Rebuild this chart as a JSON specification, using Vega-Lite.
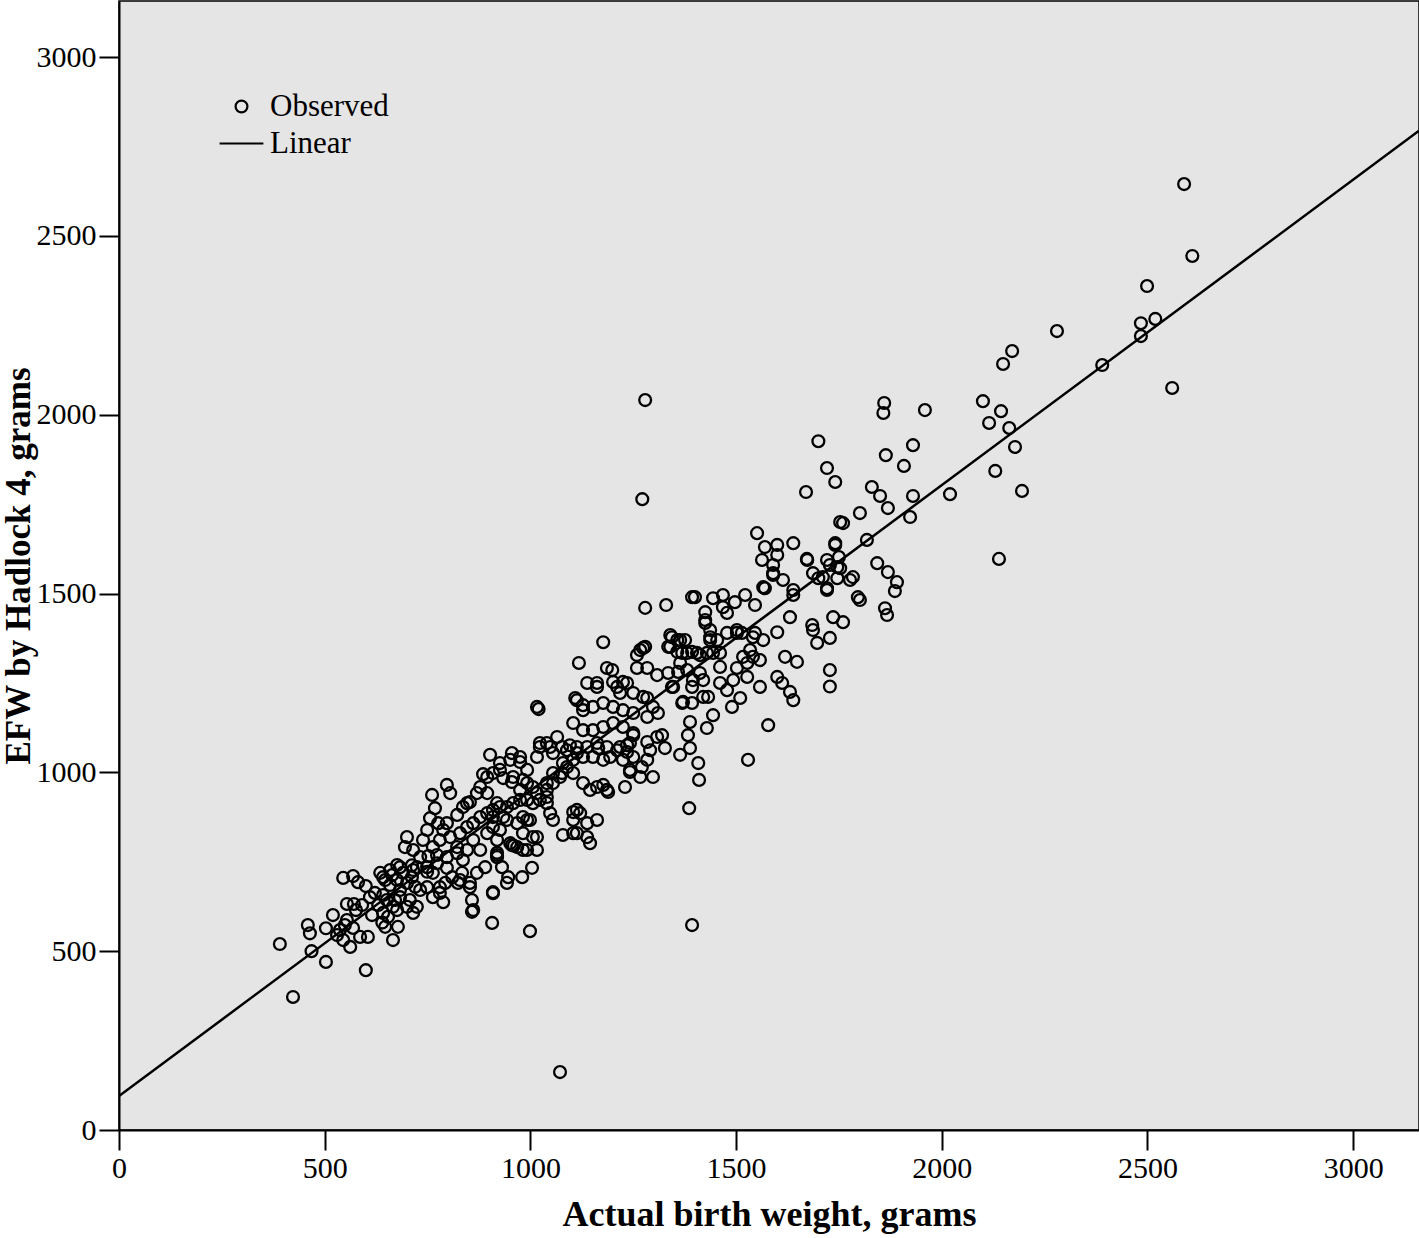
{
"$schema": "https://vega.github.io/schema/vega-lite/v6.json",
"autosize": {"type": "none"},
"width": 1300,
"height": 1129,
"padding": {"left": 119, "top": 1, "right": 0, "bottom": 108},
"background": "#ffffff",
"config": {
 "view": {"fill": "#e5e5e5", "stroke": "#000000", "strokeWidth": 1.5},
 "axis": {"grid": false, "domainColor": "#000000", "domainWidth": 2, "tickColor": "#000000", "tickWidth": 2, "tickSize": 20, "labelFont": "Liberation Serif", "labelFontSize": 30, "labelColor": "#000000", "labelPadding": 3, "labelFlush": false, "labelOverlap": false, "format": "d", "titleFont": "Liberation Serif", "titleFontSize": 36, "titleFontWeight": "bold", "titleColor": "#000000"},
 "legend": {"labelFont": "Liberation Serif", "labelFontSize": 31, "labelColor": "#000000", "symbolStrokeColor": "#000000", "symbolFillColor": "transparent", "symbolStrokeWidth": 2.2, "symbolSize": 140, "padding": 0, "labelOffset": 13, "rowPadding": 5}
},
"datasets": {
 "fit": [{"x": 0, "y": 95}, {"x": 3160, "y": 2794}],
 "pts": [
{"x":391,"y":520},{"x":423,"y":372},{"x":459,"y":573},{"x":464,"y":550},{"x":468,"y":500},{"x":503,"y":564},{"x":503,"y":470},{"x":520,"y":601},{"x":530,"y":545},{"x":545,"y":705},{"x":554,"y":632},{"x":569,"y":710},{"x":571,"y":632},{"x":581,"y":693},{"x":600,"y":682},{"x":600,"y":447},{"x":610,"y":651},{"x":554,"y":587},{"x":562,"y":512},{"x":545,"y":531},{"x":537,"y":559},{"x":569,"y":565},{"x":586,"y":540},{"x":605,"y":540},{"x":622,"y":663},{"x":635,"y":719},{"x":647,"y":568},{"x":654,"y":596},{"x":666,"y":531},{"x":676,"y":741},{"x":678,"y":568},{"x":690,"y":719},{"x":700,"y":624},{"x":715,"y":727},{"x":724,"y":624},{"x":732,"y":671},{"x":576,"y":615},{"x":591,"y":629},{"x":549,"y":573},{"x":615,"y":601},{"x":630,"y":629},{"x":642,"y":657},{"x":659,"y":685},{"x":671,"y":643},{"x":683,"y":671},{"x":664,"y":713},{"x":647,"y":699},{"x":640,"y":580},{"x":712,"y":740},{"x":749,"y":722},
{"x":902,"y":1049},{"x":926,"y":1026},{"x":955,"y":1054},{"x":975,"y":1029},{"x":992,"y":1007},{"x":1016,"y":1043},{"x":1040,"y":1082},{"x":1055,"y":998},{"x":1006,"y":959},{"x":975,"y":951},{"x":955,"y":973},{"x":909,"y":998},{"x":895,"y":987},{"x":878,"y":959},{"x":853,"y":917},{"x":836,"y":903},{"x":822,"y":881},{"x":797,"y":965},{"x":805,"y":942},{"x":761,"y":937},{"x":768,"y":900},{"x":756,"y":872},{"x":776,"y":858},{"x":788,"y":839},{"x":749,"y":839},{"x":739,"y":811},{"x":700,"y":819},{"x":695,"y":791},{"x":715,"y":783},{"x":732,"y":763},{"x":999,"y":867},{"x":1016,"y":819},{"x":992,"y":783},{"x":968,"y":791},{"x":951,"y":802},{"x":919,"y":811},{"x":919,"y":763},{"x":931,"y":735},{"x":946,"y":707},{"x":943,"y":691},{"x":980,"y":707},{"x":1004,"y":733},{"x":909,"y":665},{"x":858,"y":643},{"x":858,"y":610},{"x":788,"y":637},{"x":780,"y":663},{"x":824,"y":691},{"x":853,"y":691},{"x":870,"y":719},{"x":890,"y":735},{"x":834,"y":719},{"x":810,"y":707},{"x":793,"y":691},{"x":763,"y":719},{"x":683,"y":735},{"x":720,"y":680},{"x":1055,"y":867},{"x":1079,"y":825},{"x":1104,"y":889},
{"x":752,"y":766},{"x":763,"y":791},{"x":780,"y":811},{"x":805,"y":819},{"x":829,"y":830},{"x":846,"y":847},{"x":861,"y":858},{"x":878,"y":875},{"x":895,"y":886},{"x":909,"y":895},{"x":926,"y":903},{"x":943,"y":903},{"x":958,"y":914},{"x":975,"y":923},{"x":992,"y":923},{"x":1006,"y":914},{"x":1023,"y":923},{"x":1040,"y":931},{"x":1040,"y":914},{"x":749,"y":735},{"x":724,"y":735},{"x":712,"y":707},{"x":659,"y":727},{"x":642,"y":707},{"x":676,"y":699},{"x":700,"y":691},{"x":749,"y":679},{"x":707,"y":643},{"x":683,"y":651},{"x":651,"y":643},{"x":666,"y":624},{"x":1104,"y":830},{"x":1113,"y":895},{"x":1023,"y":1071},{"x":1055,"y":1054},{"x":1077,"y":1071},{"x":1096,"y":1076},{"x":1113,"y":1054},{"x":1089,"y":1015},{"x":1104,"y":998},{"x":1077,"y":998},{"x":1040,"y":970},{"x":992,"y":970},{"x":934,"y":984},{"x":870,"y":942},{"x":797,"y":858},{"x":822,"y":791},{"x":846,"y":783},{"x":861,"y":811},{"x":797,"y":763},{"x":773,"y":746},{"x":836,"y":755},{"x":878,"y":783},{"x":895,"y":830},{"x":909,"y":847},{"x":943,"y":867},{"x":968,"y":858},{"x":982,"y":875},{"x":642,"y":607},{"x":676,"y":615},{"x":715,"y":607},{"x":763,"y":651},{"x":780,"y":679},{"x":861,"y":615},{"x":909,"y":662},{"x":919,"y":769},{"x":955,"y":797},{"x":853,"y":679},{"x":829,"y":699},{"x":822,"y":774},{"x":797,"y":733},{"x":773,"y":769},
{"x":1016,"y":1183},{"x":1020,"y":1177},{"x":1113,"y":1202},{"x":1138,"y":1250},{"x":1162,"y":1239},{"x":1211,"y":1239},{"x":1235,"y":1250},{"x":1250,"y":1222},{"x":1274,"y":1211},{"x":1298,"y":1183},{"x":1284,"y":1155},{"x":1250,"y":1166},{"x":1225,"y":1174},{"x":1201,"y":1183},{"x":1177,"y":1194},{"x":1152,"y":1183},{"x":1128,"y":1174},{"x":1104,"y":1138},{"x":1128,"y":1118},{"x":1152,"y":1118},{"x":1177,"y":1127},{"x":1201,"y":1138},{"x":1225,"y":1127},{"x":1250,"y":1110},{"x":1308,"y":1099},{"x":1284,"y":1085},{"x":1235,"y":1076},{"x":1211,"y":1062},{"x":1186,"y":1071},{"x":1162,"y":1082},{"x":1138,"y":1071},{"x":1113,"y":1071},{"x":1089,"y":1062},{"x":1065,"y":1099},{"x":1048,"y":1071},{"x":1023,"y":1082},{"x":975,"y":1043},{"x":951,"y":1035},{"x":926,"y":1007},{"x":958,"y":987},{"x":982,"y":979},{"x":1079,"y":1026},{"x":1104,"y":1035},{"x":1128,"y":1043},{"x":1152,"y":1043},{"x":1177,"y":1035},{"x":1225,"y":1035},{"x":1250,"y":1043},{"x":1284,"y":1035},{"x":1291,"y":1062},{"x":1242,"y":1007},{"x":1267,"y":987},{"x":1298,"y":987},{"x":1230,"y":959},{"x":1186,"y":951},{"x":1162,"y":959},{"x":1128,"y":970},{"x":1072,"y":987},{"x":1055,"y":970},{"x":1040,"y":951},{"x":1016,"y":942},{"x":1048,"y":886},{"x":1121,"y":886},{"x":1104,"y":867},{"x":1162,"y":867},{"x":1138,"y":858},{"x":1113,"y":830},{"x":1138,"y":819},{"x":1145,"y":802},{"x":960,"y":795},{"x":919,"y":775},{"x":982,"y":783},{"x":1016,"y":783},{"x":1006,"y":819},{"x":982,"y":830},{"x":926,"y":839},{"x":909,"y":875},{"x":934,"y":875},{"x":992,"y":867},{"x":919,"y":914},{"x":895,"y":942},{"x":846,"y":914},{"x":885,"y":995},
{"x":1177,"y":1364},{"x":1118,"y":1306},{"x":1267,"y":1342},{"x":1279,"y":1351},{"x":1259,"y":1328},{"x":1259,"y":1292},{"x":1284,"y":1292},{"x":1308,"y":1272},{"x":1335,"y":1278},{"x":1340,"y":1384},{"x":1364,"y":1370},{"x":1376,"y":1370},{"x":1340,"y":1351},{"x":1357,"y":1337},{"x":1381,"y":1334},{"x":1405,"y":1334},{"x":1429,"y":1334},{"x":1444,"y":1334},{"x":1461,"y":1334},{"x":1437,"y":1378},{"x":1425,"y":1418},{"x":1478,"y":1390},{"x":1502,"y":1390},{"x":1412,"y":1278},{"x":1381,"y":1286},{"x":1364,"y":1306},{"x":1395,"y":1258},{"x":1420,"y":1258},{"x":1347,"y":1239},{"x":1393,"y":1239},{"x":1371,"y":1197},{"x":1393,"y":1194},{"x":1420,"y":1211},{"x":1432,"y":1211},{"x":1461,"y":1250},{"x":1478,"y":1230},{"x":1493,"y":1258},{"x":1490,"y":1183},{"x":1444,"y":1160},{"x":1429,"y":1124},{"x":1388,"y":1141},{"x":1383,"y":1104},{"x":1388,"y":1068},{"x":1364,"y":1049},{"x":1408,"y":1026},{"x":1410,"y":979},{"x":1320,"y":1104},{"x":1327,"y":1068},{"x":1310,"y":1166},{"x":1284,"y":1208},{"x":1250,"y":1104},{"x":1242,"y":1082},{"x":1235,"y":1057},{"x":1271,"y":1015},{"x":1242,"y":1001},{"x":1177,"y":965},{"x":1189,"y":945},{"x":1145,"y":951},{"x":1109,"y":1208},{"x":1128,"y":1188},{"x":1186,"y":1292},{"x":1199,"y":1286},{"x":1201,"y":1253},{"x":1162,"y":1250},{"x":1225,"y":1253},{"x":1218,"y":1222},{"x":1194,"y":1043},{"x":1165,"y":1068},{"x":1218,"y":1071},
{"x":1279,"y":1460},{"x":1330,"y":1468},{"x":1393,"y":1490},{"x":1400,"y":1490},{"x":1444,"y":1487},{"x":1468,"y":1496},{"x":1497,"y":1476},{"x":1522,"y":1496},{"x":1546,"y":1468},{"x":1468,"y":1462},{"x":1478,"y":1446},{"x":1425,"y":1448},{"x":1425,"y":1426},{"x":1566,"y":1518},{"x":1570,"y":1515},{"x":1590,"y":1552},{"x":1614,"y":1538},{"x":1639,"y":1510},{"x":1639,"y":1496},{"x":1687,"y":1557},{"x":1631,"y":1434},{"x":1600,"y":1392},{"x":1685,"y":1412},{"x":1687,"y":1398},{"x":1697,"y":1362},{"x":1344,"y":1378},{"x":1357,"y":1370},{"x":1335,"y":1351},{"x":1274,"y":1348},{"x":1359,"y":1281},{"x":1369,"y":1334},{"x":1393,"y":1337},{"x":1412,"y":1328},{"x":1437,"y":1398},{"x":1437,"y":1370},{"x":1502,"y":1398},{"x":1454,"y":1370},{"x":1461,"y":1295},{"x":1502,"y":1292},{"x":1527,"y":1306},{"x":1541,"y":1323},{"x":1558,"y":1314},{"x":1541,"y":1378},{"x":1566,"y":1370},{"x":1534,"y":1342},{"x":1517,"y":1323},{"x":1527,"y":1267},{"x":1558,"y":1239},{"x":1600,"y":1267},{"x":1612,"y":1250},{"x":1619,"y":1323},{"x":1648,"y":1309},{"x":1631,"y":1225},{"x":1639,"y":1202},{"x":1578,"y":1132},{"x":1510,"y":1208},{"x":1369,"y":1194},{"x":1344,"y":1239},
{"x":1551,"y":1669},{"x":1570,"y":1630},{"x":1600,"y":1636},{"x":1600,"y":1608},{"x":1639,"y":1641},{"x":1563,"y":1594},{"x":1590,"y":1580},{"x":1590,"y":1557},{"x":1673,"y":1594},{"x":1721,"y":1594},{"x":1741,"y":1641},{"x":1753,"y":1700},{"x":1760,"y":1697},{"x":1801,"y":1725},{"x":1746,"y":1574},{"x":1711,"y":1546},{"x":1746,"y":1543},{"x":1721,"y":1515},{"x":1777,"y":1538},{"x":1784,"y":1546},{"x":1818,"y":1650},{"x":1843,"y":1585},{"x":1796,"y":1490},{"x":1801,"y":1482},{"x":1736,"y":1434},{"x":1760,"y":1420},{"x":1728,"y":1376},{"x":1728,"y":1286},{"x":1728,"y":1240},{"x":1514,"y":1390},{"x":1546,"y":1390},
{"x":1700,"y":1926},{"x":1858,"y":2005},{"x":1860,"y":2033},{"x":1959,"y":2013},{"x":1930,"y":1915},{"x":1864,"y":1887},{"x":1908,"y":1857},{"x":1721,"y":1851},{"x":1741,"y":1812},{"x":1670,"y":1784},{"x":1830,"y":1798},{"x":1850,"y":1773},{"x":1869,"y":1739},{"x":1930,"y":1773},{"x":1923,"y":1714},{"x":2020,"y":1778},{"x":1741,"y":1636},{"x":1672,"y":1597},{"x":1750,"y":1602},{"x":1728,"y":1580},{"x":1753,"y":1571},{"x":1700,"y":1543},{"x":1721,"y":1510},{"x":1869,"y":1560},{"x":1891,"y":1532},{"x":1886,"y":1507},{"x":1862,"y":1459},{"x":1867,"y":1440},
{"x":2589,"y":2645},{"x":2609,"y":2444},{"x":2499,"y":2360},{"x":2484,"y":2256},{"x":2519,"y":2268},{"x":2484,"y":2220},{"x":2560,"y":2075},{"x":2390,"y":2139},{"x":2280,"y":2234},{"x":2171,"y":2178},{"x":2149,"y":2142},{"x":2100,"y":2038},{"x":2144,"y":2010},{"x":2115,"y":1977},{"x":2164,"y":1963},{"x":2178,"y":1910},{"x":2130,"y":1843},{"x":2195,"y":1787},{"x":2139,"y":1597},
{"x":1272,"y":1764},{"x":1279,"y":2041},{"x":1393,"y":573},{"x":1072,"y":162},{"x":999,"y":556},{"x":907,"y":579},{"x":1386,"y":900},{"x":1529,"y":1035}
 ]
},
"layer": [
 {
  "data": {"name": "pts"},
  "mark": {"type": "point", "filled": false, "color": "#000000", "strokeWidth": 2.3, "size": 140, "opacity": 1},
  "encoding": {
   "x": {"field": "x", "type": "quantitative", "scale": {"domain": [0, 3160], "nice": false, "zero": false}, "axis": {"values": [0, 500, 1000, 1500, 2000, 2500, 3000], "title": "Actual birth weight, grams", "titlePadding": 14}},
   "y": {"field": "y", "type": "quantitative", "scale": {"domain": [0, 3157], "nice": false, "zero": false}, "axis": {"values": [0, 500, 1000, 1500, 2000, 2500, 3000], "title": "EFW by Hadlock 4, grams", "titlePadding": 0, "titleFontSize": 35}},
   "shape": {"datum": "Observed", "scale": {"domain": ["Observed", "Linear"], "range": ["circle", "M-3.7,0H3.7"]}, "legend": {"title": null, "orient": "none", "legendX": 107, "legendY": 90}}
  }
 },
 {
  "data": {"name": "fit"},
  "mark": {"type": "line", "color": "#000000", "strokeWidth": 2.5, "clip": true},
  "encoding": {
   "x": {"field": "x", "type": "quantitative"},
   "y": {"field": "y", "type": "quantitative"}
  }
 }
]
}
